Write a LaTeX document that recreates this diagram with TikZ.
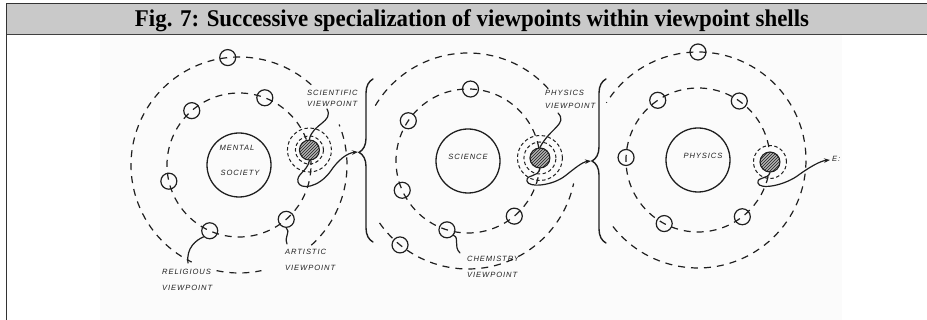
\documentclass[tikz,border=0pt]{standalone}
\usepackage{fontspec}
\setmainfont{Liberation Serif}
\newfontfamily\handfont[LetterSpace=12]{Liberation Sans}
\usetikzlibrary{decorations.pathreplacing,patterns,arrows.meta}
\definecolor{bandgray}{gray}{0.79}
\definecolor{inkc}{gray}{0.12}
\definecolor{paper}{gray}{0.985}
\begin{document}
\begin{tikzpicture}[x=1pt,y=1pt,
  ink/.style={draw=inkc, line width=1.2pt, line cap=round},
  orbit/.style={draw=inkc, line width=1.2pt, dash pattern=on 7pt off 6pt},
  ring/.style={draw=inkc, line width=1pt, dash pattern=on 3.5pt off 2.5pt},
  moon/.style={circle, draw=inkc, line width=1.2pt, minimum size=16pt, inner sep=0pt},
  core/.style={circle, draw=inkc, line width=1.3pt, minimum size=64pt, inner sep=0pt},
  shaded/.style={circle, draw=inkc, line width=1.1pt, minimum size=20pt, inner sep=0pt,
    preaction={fill=black!30}, pattern=north east lines, pattern color=inkc},
  hand/.style={font=\handfont\itshape\fontsize{7.6}{#1}\selectfont, text=inkc, inner sep=0pt, align=left},
  hand/.default=16,
  bracestyle/.style={ink, line width=1.4pt, decorate, decoration={brace, amplitude=14pt, aspect=#1}},
  arrowline/.style={ink, -{Stealth[length=6pt,width=4.5pt]}},
]
\useasboundingbox (0,0) rectangle (927,320);
\fill[white] (0,0) rectangle (927,320);
\fill[paper] (100,0) rectangle (842,285);
\fill[bandgray] (7,286) rectangle (927,316);
\draw[black!80, line width=1.6pt] (7,316.5) -- (927,316.5);
\draw[black!75, line width=1.3pt] (7,285.5) -- (927,285.5);
\draw[black!80, line width=1.6pt] (6.5,0) -- (6.5,317.3);
\node[anchor=base, inner sep=0pt] (title) at (472,293)
  {\resizebox{674pt}{\height}{\fontsize{24}{24}\selectfont\bfseries Fig. 7: Successive specialization of viewpoints within viewpoint shells}};

\coordinate (c1) at (239,155);
\coordinate (c2) at (468,159);
\coordinate (c3) at (698,160);

% ---------- system 1 ----------
\node[core] (core1) at (c1) {};
\node[hand] (mental) at (237,172) {MENTAL};
\node[hand] (society) at (240,147) {SOCIETY};
\draw[orbit] (c1) circle[radius=72pt];
\draw[orbit] (c1) ++(48:108pt) arc[start angle=48, end angle=244, radius=108pt];
\draw[orbit] (c1) ++(-102:108pt) arc[start angle=-102, end angle=-78, radius=108pt];
\draw[orbit] (c1) ++(-48:108pt) arc[start angle=-48, end angle=22, radius=108pt];
\path (c1) ++(96:108pt) node[moon] (m1a) {};
\path (c1) ++(131:72pt) node[moon] (m1b) {};
\path (c1) ++(69:72pt) node[moon] (m1c) {};
\path (c1) ++(193:72pt) node[moon] (m1d) {};
\path (c1) ++(246:72pt) node[moon] (m1rel) {};
\path (c1) ++(311:72pt) node[moon] (m1art) {};
\path (c1) ++(12:72pt) node[shaded] (sh1) {};
\draw[ring] (sh1.center) circle[radius=14pt];
\draw[ring] (sh1.center) circle[radius=22pt];
\node[hand=11, anchor=west] (sci) at (307,222) {SCIENTIFIC\\VIEWPOINT};
\node[hand, anchor=west] (art) at (285,60) {ARTISTIC\\VIEWPOINT};
\node[hand, anchor=west] (rel) at (162,40) {RELIGIOUS\\VIEWPOINT};
\coordinate (l1s) at (327,211);
\draw[ink] (l1s) .. controls (334,198) and (312,196) .. (sh1.north);
\coordinate (l1a) at (287,76);
\draw[ink] (l1a) .. controls (284,84) and (291,88) .. (m1art.south);
\coordinate (l1r) at (188,57);
\draw[ink] (l1r) .. controls (186,72) and (196,80) .. (m1rel.225);
\coordinate (tip1) at (358,168);
\draw[arrowline] (sh1.south) .. controls (307,148) and (296,146) .. (298,138)
  .. controls (300,130) and (318,132) .. (330,148)
  .. controls (338,160) and (347,167) .. (tip1);
\draw[bracestyle=0.55] (373,78) -- (373,241);

% ---------- system 2 ----------
\node[core] (core2) at (c2) {};
\node[hand] (science) at (468,163) {SCIENCE};
\draw[orbit] (c2) circle[radius=72pt];
\draw[orbit] (c2) ++(42:108pt) arc[start angle=42, end angle=150, radius=108pt];
\draw[orbit] (c2) ++(215:108pt) arc[start angle=215, end angle=348, radius=108pt];
\path (c2) ++(88:72pt) node[moon] (m2a) {};
\path (c2) ++(146:72pt) node[moon] (m2b) {};
\path (c2) ++(204:72pt) node[moon] (m2c) {};
\path (c2) ++(253:72pt) node[moon] (m2chem) {};
\path (c2) ++(310:72pt) node[moon] (m2e) {};
\path (c2) ++(231:108pt) node[moon] (m2out) {};
\path (c2) ++(2.4:72pt) node[shaded] (sh2) {};
\draw[ring] (sh2.center) circle[radius=16pt];
\draw[ring] (sh2.center) circle[radius=22.5pt];
\node[hand=13, anchor=west] (phys) at (545,220.5) {PHYSICS\\VIEWPOINT};
\node[hand, anchor=west] (chem) at (467,53) {CHEMISTRY\\VIEWPOINT};
\coordinate (l2p) at (558,207);
\draw[ink] (l2p) .. controls (568,196) and (550,192) .. (sh2.north);
\coordinate (l2c) at (460,67);
\draw[ink] (l2c) .. controls (453,74) and (460,82) .. (m2chem.-40);
\coordinate (tip2) at (591,159);
\draw[arrowline] (sh2.south) .. controls (538,142) and (526,146) .. (527,139)
  .. controls (528,132) and (552,134) .. (565,144)
  .. controls (574,151) and (582,158) .. (tip2);
\draw[bracestyle=0.5] (606,77) -- (606,241);

% ---------- system 3 ----------
\node[core] (core3) at (c3) {};
\node[hand] (physics) at (703,164) {PHYSICS};
\draw[orbit] (c3) circle[radius=72pt];
\draw[orbit] (c3) ++(218:108pt) arc[start angle=218, end angle=508, radius=108pt];
\path (c3) ++(90:108pt) node[moon] (m3a) {};
\path (c3) ++(124:72pt) node[moon] (m3b) {};
\path (c3) ++(55:72pt) node[moon] (m3c) {};
\path (c3) ++(178:72pt) node[moon] (m3d) {};
\path (c3) ++(242:72pt) node[moon] (m3e) {};
\path (c3) ++(308:72pt) node[moon] (m3f) {};
\path (c3) ++(-1.6:72pt) node[shaded] (sh3) {};
\draw[ring] (sh3.center) circle[radius=16.5pt];
\coordinate (tip3) at (830,160);
\draw[arrowline] (sh3.south) .. controls (768,140) and (757,144) .. (758,137)
  .. controls (759,130) and (785,134) .. (800,146)
  .. controls (810,153) and (820,159) .. (tip3);
\node[hand, anchor=west] (enext) at (832,161) {E:};
\end{tikzpicture}
\end{document}
